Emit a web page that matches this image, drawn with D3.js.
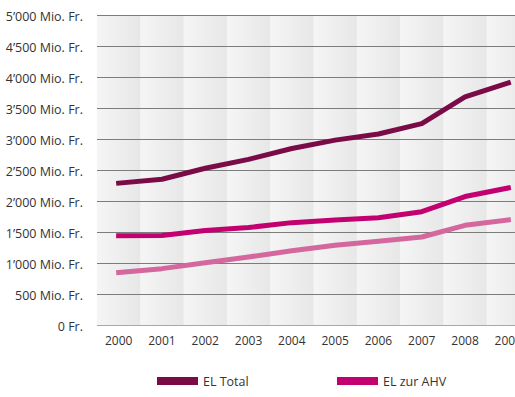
<!DOCTYPE html>
<html><head><meta charset="utf-8">
<script src="https://cdn.jsdelivr.net/npm/d3@7/dist/d3.min.js"></script>
<style>
html,body{margin:0;padding:0;background:#fff;overflow:hidden}
text{font-family:"Open Sans",sans-serif;fill:#333}
</style></head><body>
<svg id="c" width="515" height="397"></svg>
<script>
const years = [2000,2001,2002,2003,2004,2005,2006,2007,2008,2009];
const elTotal = [2288,2351,2528,2671,2847,2982,3080,3249,3680,3905];
const elAHV   = [1441,1442,1525,1573,1651,1695,1731,1827,2072,2210];
const elIV    = [847,909,1003,1098,1196,1286,1349,1419,1608,1695];
const yTicks = [0,500,1000,1500,2000,2500,3000,3500,4000,4500,5000];
const yTickLabels = ["0 Fr.","500 Mio. Fr.","1’000 Mio. Fr.","1’500 Mio. Fr.","2’000 Mio. Fr.","2’500 Mio. Fr.","3’000 Mio. Fr.","3’500 Mio. Fr.","4’000 Mio. Fr.","4’500 Mio. Fr.","5’000 Mio. Fr."];
const seriesNames = ["EL Total","EL zur AHV"];

const svg = d3.select("#c");
const plotLeft = 97, plotTop = 15, plotBottom = 325, colW = 43.3;
const x = d3.scaleBand().domain(years).range([plotLeft, plotLeft + colW*years.length]).padding(0);
const y = d3.scaleLinear().domain([0,5000]).range([plotBottom, plotTop]);

const defs = svg.append("defs");
const g = defs.append("linearGradient").attr("id","colg").attr("x1","0").attr("x2","1").attr("y1","0").attr("y2","0");
g.append("stop").attr("offset","0").attr("stop-color","#f5f5f5");
g.append("stop").attr("offset","1").attr("stop-color","#e7e7e7");

svg.append("g").selectAll("rect").data(years).join("rect")
  .attr("x", d=>x(d)).attr("y", y(5000)).attr("width", x.bandwidth()+0.5)
  .attr("height", y(0)-y(5000)).attr("fill","url(#colg)");

// gridlines
svg.append("g").selectAll("line").data(yTicks).join("line")
  .attr("x1", plotLeft).attr("x2", 515)
  .attr("y1", d=>Math.round(y(d))+0.5).attr("y2", d=>Math.round(y(d))+0.5)
  .attr("stroke", d=>d===0? "#a8a8a8":"#7c7c7c").attr("stroke-width",1);

// y labels
svg.append("g").selectAll("text").data(yTicks).join("text")
  .attr("x", 83).attr("y", d=>y(d)+6).attr("text-anchor","end")
  .attr("font-size","12.5px").text((d,i)=>yTickLabels[i]);

// x labels
svg.append("g").selectAll("text").data(years).join("text")
  .attr("x", d=>x(d)+x.bandwidth()/2).attr("y", 345).attr("text-anchor","middle")
  .attr("font-size","12px").text(d=>d);

const line = d3.line().x((d,i)=>x(years[i])+x.bandwidth()/2).y(d=>y(d));
const series = [
  {vals: elIV, color:"#d4679e"},
  {vals: elAHV, color:"#c2006f"},
  {vals: elTotal, color:"#7a0b46"}
];
svg.append("g").selectAll("path").data(series).join("path")
  .attr("d", d=>line(d.vals)).attr("fill","none")
  .attr("stroke", d=>d.color).attr("stroke-width",5)
  .attr("stroke-linecap","square").attr("stroke-linejoin","round");

// legend
const legend = [{name:seriesNames[0], color:"#7a0b46", x:157},{name:seriesNames[1], color:"#c2006f", x:337}];
const lg = svg.append("g").selectAll("g").data(legend).join("g");
lg.append("rect").attr("x", d=>d.x).attr("y", 377).attr("width", 41).attr("height", 8).attr("fill", d=>d.color);
lg.append("text").attr("x", d=>d.x+46).attr("y", 386).attr("font-size","12.5px").text(d=>d.name);
</script>
</body></html>
